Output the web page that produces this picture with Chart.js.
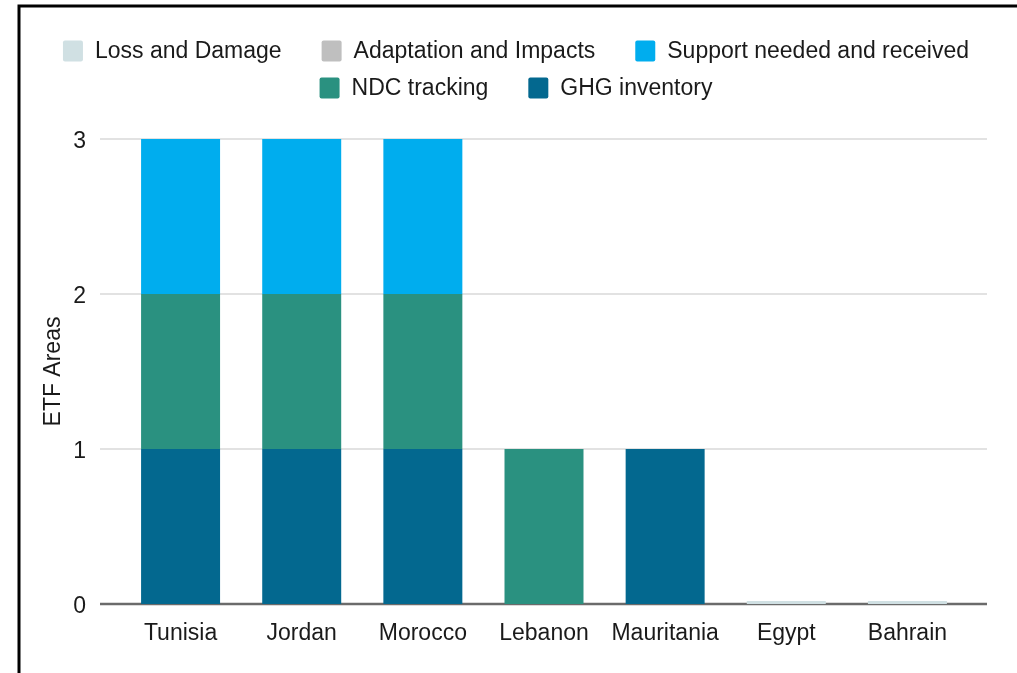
<!DOCTYPE html>
<html>
<head>
<meta charset="utf-8">
<script src="https://cdn.jsdelivr.net/npm/chart.js@4.4.1/dist/chart.umd.min.js"></script>
<style>
  html, body { margin: 0; padding: 0; background: #fff; }
  #wrap { position: relative; width: 1017px; height: 673px; }
</style>
</head>
<body>
<div id="wrap"><canvas id="etfChart" width="1017" height="673"></canvas></div>
<script>
// Countries and number of ETF areas reported per area type
const countries = ["Tunisia", "Jordan", "Morocco", "Lebanon", "Mauritania", "Egypt", "Bahrain"];
const ghgInventory = [1, 1, 1, 0, 1, 0, 0];
const ndcTracking = [1, 1, 1, 1, 0, 0, 0];
const supportNeeded = [1, 1, 1, 0, 0, 0, 0];
const adaptationImpacts = [null, null, null, null, null, null, null];
const lossDamage = [null, null, null, null, null, 0, 0];
const yTicks = [0, 1, 2, 3];

const FONT = "'Liberation Sans', Arial, sans-serif";
const TEXT_COLOR = "#1a1a1a";

// Black frame on the left and top edges
const framePlugin = {
    id: "frame",
    beforeDraw(chart) {
        const ctx = chart.ctx;
        ctx.save();
        ctx.fillStyle = "#fff";
        ctx.fillRect(0, 0, chart.width, chart.height);
        ctx.strokeStyle = "#000";
        ctx.lineWidth = 3;
        ctx.beginPath();
        ctx.moveTo(19, chart.height);
        ctx.lineTo(19, 6);
        ctx.lineTo(chart.width, 6);
        ctx.stroke();
        ctx.restore();
    },
};

// Horizontal grid lines reaching a little past the plot on both sides
const gridPlugin = {
    id: "wideGrid",
    beforeDatasetsDraw(chart) {
        const { ctx, chartArea, scales } = chart;
        const y = scales.y;
        ctx.save();
        y.ticks.forEach((tick) => {
            const py = Math.round(y.getPixelForValue(tick.value));
            ctx.beginPath();
            if (tick.value === 0) {
                ctx.strokeStyle = "#6b6b6b";
                ctx.lineWidth = 2.5;
            } else {
                ctx.strokeStyle = "#d9d9d9";
                ctx.lineWidth = 1.5;
            }
            ctx.moveTo(chartArea.left - 20, py);
            ctx.lineTo(chartArea.right + 19, py);
            ctx.stroke();
        });
        ctx.restore();
    },
};

// Two-row centred legend, listed from the top of the stack down
const legendPlugin = {
    id: "rowLegend",
    afterDraw(chart) {
        const ctx = chart.ctx;
        const items = chart.data.datasets.slice().reverse();
        const rows = [items.slice(0, 3), items.slice(3)];
        const rowY = [51, 88];
        const boxW = 20, boxH = 21, textGap = 12, itemGap = 40, centerX = 516;
        ctx.save();
        ctx.font = "23px " + FONT;
        ctx.textBaseline = "middle";
        ctx.textAlign = "left";
        rows.forEach((row, r) => {
            const widths = row.map((ds) => boxW + textGap + ctx.measureText(ds.label).width);
            const total = widths.reduce((a, b) => a + b, 0) + itemGap * (row.length - 1);
            let x = centerX - total / 2;
            row.forEach((ds, i) => {
                ctx.fillStyle = ds.backgroundColor;
                ctx.beginPath();
                ctx.roundRect(x, rowY[r] - boxH / 2, boxW, boxH, 2);
                ctx.fill();
                ctx.fillStyle = TEXT_COLOR;
                ctx.fillText(ds.label, x + boxW + textGap, rowY[r] + 1);
                x += widths[i] + itemGap;
            });
        });
        ctx.restore();
    },
};

const ctx = document.getElementById("etfChart").getContext("2d");

new Chart(ctx, {
    type: "bar",
    data: {
        labels: countries,
        datasets: [
            { label: "GHG inventory", data: ghgInventory, backgroundColor: "#03688f" },
            { label: "NDC tracking", data: ndcTracking, backgroundColor: "#2a9180" },
            { label: "Support needed and received", data: supportNeeded, backgroundColor: "#00adee" },
            { label: "Adaptation and Impacts", data: adaptationImpacts, backgroundColor: "#bfbfbf" },
            { label: "Loss and Damage", data: lossDamage, backgroundColor: "#d0e0e3", minBarLength: 3 },
        ],
    },
    options: {
        responsive: false,
        animation: false,
        devicePixelRatio: 1,
        barPercentage: 0.652,
        categoryPercentage: 1,
        layout: {
            padding: { top: 139, right: 49, bottom: 0, left: 0 },
        },
        plugins: {
            legend: { display: false },
            tooltip: { enabled: false },
        },
        scales: {
            x: {
                stacked: true,
                grid: { display: false, drawTicks: false },
                border: { display: false },
                ticks: {
                    color: TEXT_COLOR,
                    font: { family: FONT, size: 23 },
                    padding: 16,
                    maxRotation: 0,
                },
                afterFit(scale) {
                    scale.height = 69;
                },
            },
            y: {
                stacked: true,
                min: 0,
                max: 3,
                afterBuildTicks(scale) {
                    scale.ticks = yTicks.map((v) => ({ value: v }));
                },
                grid: { display: false, drawTicks: false },
                border: { display: false },
                ticks: {
                    color: TEXT_COLOR,
                    font: { family: FONT, size: 23 },
                    padding: 34,
                    labelOffset: 3,
                },
                title: {
                    display: true,
                    text: "ETF Areas",
                    color: TEXT_COLOR,
                    font: { family: FONT, size: 23 },
                    padding: { top: 40, bottom: 0 },
                },
                afterFit(scale) {
                    scale.width = 120;
                },
            },
        },
    },
    plugins: [framePlugin, gridPlugin, legendPlugin],
});
</script>
</body>
</html>
